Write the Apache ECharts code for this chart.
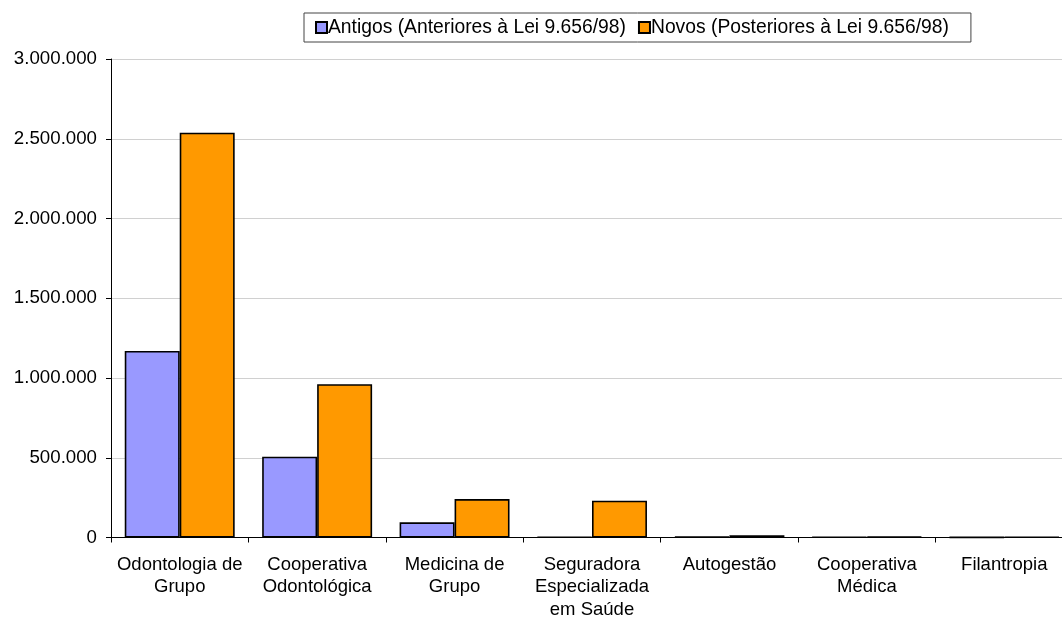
<!DOCTYPE html>
<html>
<head>
<meta charset="utf-8">
<script src="https://cdn.jsdelivr.net/npm/echarts@6/dist/echarts.min.js"></script>
<style>html,body{margin:0;padding:0;background:#fff;overflow:hidden}#c{width:1090px;height:621px}</style>
</head>
<body>
<div id="c"></div>
<script>
const categories = ["Odontologia de\nGrupo", "Cooperativa\nOdontológica", "Medicina de\nGrupo", "Seguradora\nEspecializada\nem Saúde", "Autogestão", "Cooperativa\nMédica", "Filantropia"];
const seriesNames = ["Antigos (Anteriores à Lei 9.656/98)", "Novos (Posteriores à Lei 9.656/98)"];
const antigos = [1170000, 507000, 95000, 4000, 5000, 3000, 2000];
const novos = [2538000, 961000, 241000, 231000, 14000, 5000, 3000];
const yTicks = { min: 0, max: 3000000, interval: 500000 };

function fmt(v) { return String(v).replace(/\B(?=(\d{3})+(?!\d))/g, "."); }

const font = "Liberation Sans";
const chart = echarts.init(document.getElementById("c"));
chart.setOption({
  animation: false,
  backgroundColor: "#fff",
  textStyle: { fontFamily: font },
  legend: {
    left: 304, top: 13,
    padding: [5, 22, 5, 11],
    itemWidth: 11, itemHeight: 11, itemGap: 12,
    borderColor: "#444", borderWidth: 1,
    icon: "rect",
    textStyle: { fontFamily: font, fontSize: 19.3, color: "#000", padding: [0, 0, 0, -4] },
    data: seriesNames
  },
  grid: { left: 111, top: 59, width: 962, height: 479, containLabel: false },
  xAxis: {
    type: "category",
    data: categories,
    axisLine: { lineStyle: { color: "#000", width: 1 } },
    axisTick: { show: true, length: 5, lineStyle: { color: "#000" } },
    axisLabel: { interval: 0, color: "#000", fontFamily: font, fontSize: 18.5, lineHeight: 22.5, margin: 16 }
  },
  yAxis: {
    type: "value",
    min: yTicks.min, max: yTicks.max, interval: yTicks.interval,
    axisLine: { show: true, lineStyle: { color: "#000", width: 1 } },
    axisTick: { show: true, length: 5, lineStyle: { color: "#000" } },
    splitLine: { lineStyle: { color: "#d0d0d0", width: 1 } },
    axisLabel: { color: "#000", fontFamily: font, fontSize: 18.7, margin: 14, formatter: fmt }
  },
  series: [
    { name: seriesNames[0], type: "bar", data: antigos, barGap: "0%", barCategoryGap: "20%",
      itemStyle: { color: "#9999FF", borderColor: "#000", borderWidth: 1.6 } },
    { name: seriesNames[1], type: "bar", data: novos, barGap: "0%", barCategoryGap: "20%",
      itemStyle: { color: "#FF9900", borderColor: "#000", borderWidth: 1.6 } }
  ]
});
</script>
</body>
</html>
